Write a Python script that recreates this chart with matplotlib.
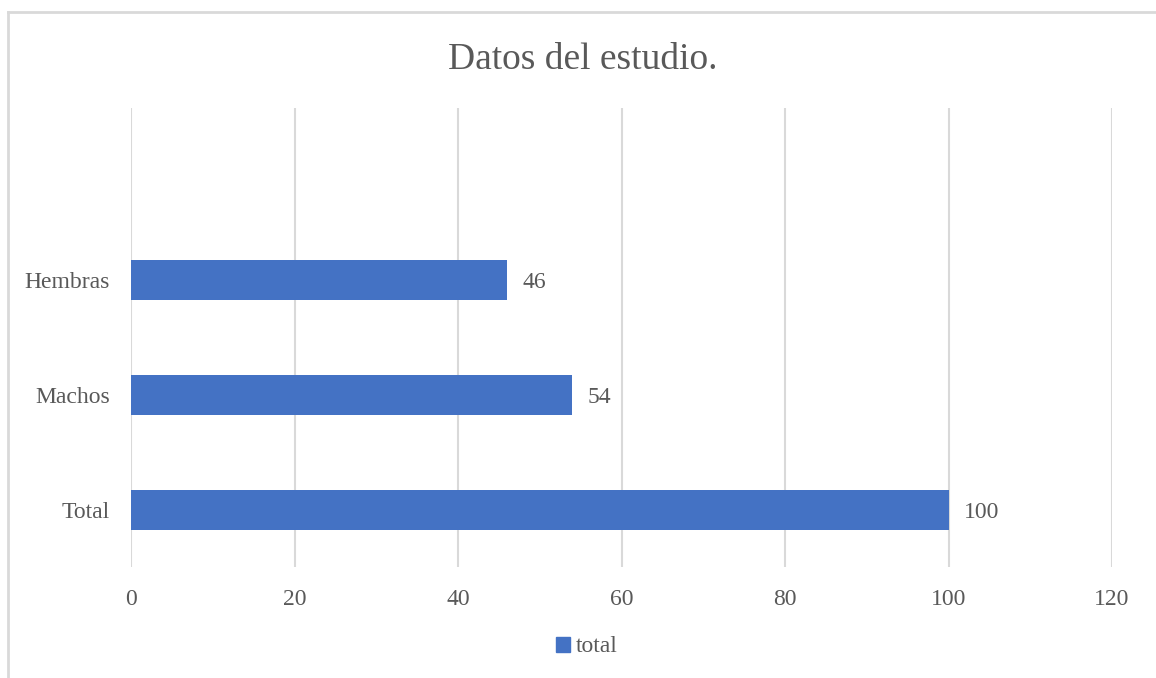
import matplotlib.pyplot as plt
from matplotlib.patches import Patch

categorias = ['Total', 'Machos', 'Hembras']
valores = [100, 54, 46]
ticks_x = [0, 20, 40, 60, 80, 100, 120]

azul = '#4472C4'
gris_texto = '#595959'
gris_linea = '#D9D9D9'

plt.rcParams['font.family'] = ['Liberation Serif', 'DejaVu Serif']

fig = plt.figure(figsize=(11.56, 6.78), dpi=100)
ax = fig.add_axes([131 / 1156, (678 - 567) / 678, (1112 - 131) / 1156, (567 - 108) / 678])

pos = list(range(len(categorias)))
barras = ax.barh(pos, valores, height=0.35, color=azul, zorder=3)

ax.set_xlim(ticks_x[0], ticks_x[-1])
ax.set_ylim(-0.5, len(categorias) + 0.5)
ax.set_xticks(ticks_x)
ax.set_yticks(pos)
ax.set_yticklabels(categorias)
ax.grid(axis='x', color=gris_linea, linewidth=1.5, zorder=0)
ax.tick_params(length=0, labelsize=17, colors=gris_texto)
ax.tick_params(axis='x', pad=16)
ax.tick_params(axis='y', pad=15)
for s in ax.spines.values():
    s.set_visible(False)

# etiquetas de valor al final de cada barra
for b, v in zip(barras, valores):
    ax.annotate(str(v), (v, b.get_y() + b.get_height() / 2), xytext=(11, 0),
                textcoords='offset points', va='center_baseline', ha='left',
                fontsize=17, color=gris_texto)

fig.suptitle('Datos del estudio.', x=583 / 1156, y=1 - 60 / 678, va='center',
             fontsize=27, color=gris_texto)

fig.legend(handles=[Patch(color=azul, label='total')], loc='center',
           bbox_to_anchor=(587 / 1156, 1 - 647 / 678), frameon=False,
           fontsize=17, labelcolor=gris_texto, handlelength=0.6, handleheight=0.6,
           handletextpad=0.25)

# marco del gráfico (solo se ven los bordes izquierdo y superior)
fig.add_artist(plt.Line2D([7.5 / 1156, 7.5 / 1156], [0, 1 - 12 / 678], color=gris_linea, linewidth=2))
fig.add_artist(plt.Line2D([7.5 / 1156, 1], [1 - 12 / 678, 1 - 12 / 678], color=gris_linea, linewidth=2))

fig.savefig('out.png', dpi=100)
